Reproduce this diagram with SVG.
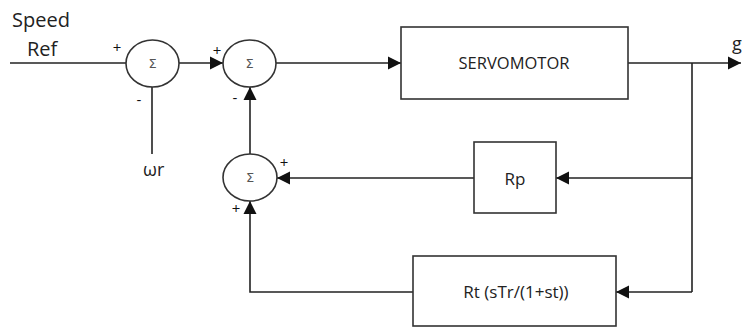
<svg xmlns="http://www.w3.org/2000/svg" width="742" height="327" viewBox="0 0 742 327">
<defs>
<marker id="arr" markerUnits="userSpaceOnUse" markerWidth="14" markerHeight="14" viewBox="0 0 14 14" refX="13" refY="7" orient="auto">
<path d="M0,0.5 L13,7 L0,13.5 Z" fill="#111"/>
</marker>
</defs>
<style>
.ln{fill:none;stroke:#222;stroke-width:1.6}
.bx{fill:#fff;stroke:#333;stroke-width:1.6}
.t{font-family:"Open Sans","Noto Sans",sans-serif;fill:#222}
.sg{font-family:"DejaVu Sans",sans-serif;font-size:13px;fill:#555;text-anchor:middle}
.pm{font-family:"Open Sans",sans-serif;font-size:15px;fill:#111;text-anchor:middle}
</style>
<rect width="742" height="327" fill="#fff"/>
<g id="connectors">
<path class="ln" d="M10,63 H126"/>
<path class="ln" d="M152,87 V154"/>
<path class="ln" d="M179,63 H223" marker-end="url(#arr)"/>
<path class="ln" d="M276,63 H401" marker-end="url(#arr)"/>
<path class="ln" d="M628,63 H741" marker-end="url(#arr)"/>
<path class="ln" d="M692,63 V292"/>
<path class="ln" d="M692,178 H556" marker-end="url(#arr)"/>
<path class="ln" d="M474,178 H277" marker-end="url(#arr)"/>
<path class="ln" d="M692,292 H616" marker-end="url(#arr)"/>
<path class="ln" d="M413,292 H250 V201" marker-end="url(#arr)"/>
<path class="ln" d="M250,154 V87" marker-end="url(#arr)"/>
</g>
<g id="labels">
<text class="t" x="12" y="27" font-size="20">Speed</text>
<text class="t" x="27" y="56" font-size="20">Ref</text>
<text class="t" x="143" y="176" font-size="18">ωr</text>
<text class="t" x="732" y="50" font-size="18">g</text>
<text class="pm" x="117" y="53">+</text>
<text class="pm" x="139" y="105">-</text>
<text class="pm" x="217" y="56">+</text>
<text class="pm" x="235" y="103">-</text>
<text class="pm" x="284" y="168">+</text>
<text class="pm" x="236" y="214">+</text>
</g>
<g id="sum1">
<ellipse class="bx" cx="152.5" cy="63.5" rx="26.5" ry="23.5"/>
<text class="sg" x="152.5" y="68">Σ</text>
</g>
<g id="sum2">
<ellipse class="bx" cx="249.5" cy="63.5" rx="26.5" ry="23.5"/>
<text class="sg" x="249.5" y="68">Σ</text>
</g>
<g id="sum3">
<ellipse class="bx" cx="250" cy="177.5" rx="27" ry="23.5"/>
<text class="sg" x="250" y="182">Σ</text>
</g>
<g id="servomotor">
<rect class="bx" x="401" y="27" width="227" height="72"/>
<text class="t" x="514" y="69" font-size="16.5" text-anchor="middle">SERVOMOTOR</text>
</g>
<g id="rp">
<rect class="bx" x="474" y="142" width="82" height="71"/>
<text class="t" x="515" y="185" font-size="17" text-anchor="middle">Rp</text>
</g>
<g id="rt">
<rect class="bx" x="413" y="256" width="203" height="70"/>
<text class="t" x="516" y="298" font-size="17" text-anchor="middle">Rt (sTr/(1+st))</text>
</g>
</svg>
